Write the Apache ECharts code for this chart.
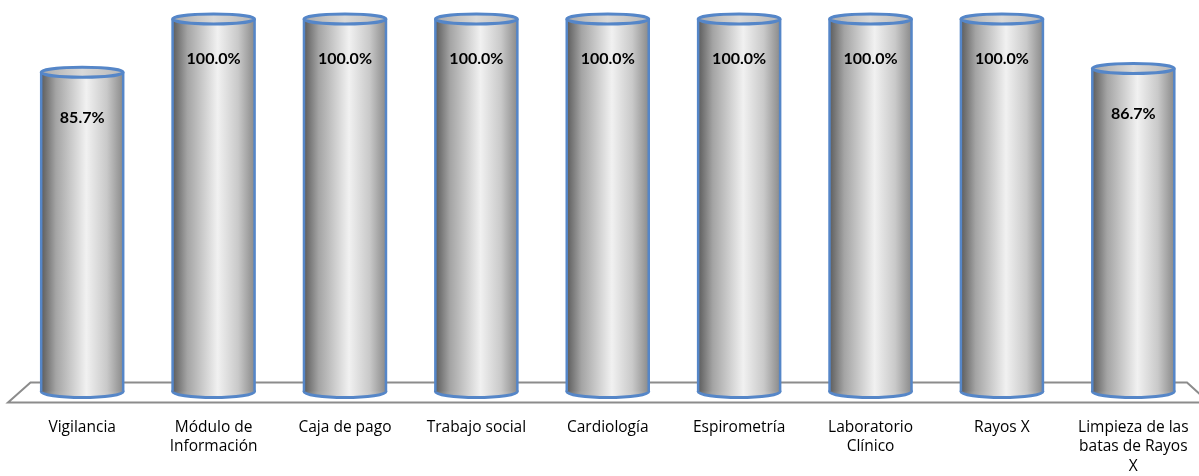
<!DOCTYPE html>
<html><head><meta charset="utf-8">
<script src="https://cdn.jsdelivr.net/npm/echarts@6/dist/echarts.min.js"></script>
<style>html,body{margin:0;padding:0;background:#fff}#c{width:1199px;height:476px}</style>
</head><body><div id="c"></div>
<script>
var categories = ['Vigilancia','Módulo de Información','Caja de pago','Trabajo social','Cardiología','Espirometría','Laboratorio Clínico','Rayos X','Limpieza de las batas de Rayos X'];
var tickLabels = ['Vigilancia','Módulo de\nInformación','Caja de pago','Trabajo social','Cardiología','Espirometría','Laboratorio\nClínico','Rayos X','Limpieza de las\nbatas de Rayos\nX'];
var values = [85.7, 100.0, 100.0, 100.0, 100.0, 100.0, 100.0, 100.0, 86.7];

var BLUE = '#5586c8';
var bodyGrad = function(){ return {type:'linear',x:0,y:0,x2:1,y2:0,colorStops:[
  {offset:0,color:'#5c5c5c'},{offset:0.18,color:'#a4a4a4'},{offset:0.55,color:'#f1f1f1'},{offset:0.8,color:'#c9c9c9'},{offset:1,color:'#8a8a8a'}]}; };
var topGrad = function(){ return {type:'linear',x:0,y:0,x2:1,y2:0,colorStops:[
  {offset:0,color:'#a9a9a9'},{offset:0.5,color:'#d9d9d9'},{offset:1,color:'#b5b5b5'}]}; };

var chart = echarts.init(document.getElementById('c'));
chart.setOption({
  animation:false,
  grid:{left:16.5, top:19, width:1189, height:373, containLabel:false},
  xAxis:{type:'category', data:categories, axisLine:{show:false}, axisTick:{show:false},
    axisLabel:{interval:0, margin:26, color:'#000', fontFamily:'Open Sans', fontSize:15.5, lineHeight:19.5,
      formatter:function(v,i){return tickLabels[i];}}},
  yAxis:{type:'value', min:0, max:100, show:false, splitLine:{show:false}},
  series:[
    {type:'custom', name:'floor', data:[0], z:1, silent:true,
     renderItem:function(params, api){
       var cs = params.coordSys; var b = cs.y + cs.height;
       return {type:'polygon', shape:{points:[[cs.x+14,b-9],[cs.x+cs.width-12,b-9],[cs.x+cs.width+10,b+11],[cs.x-8.5,b+11]]},
         style:{fill:'#fff', stroke:'#8c8c8c', lineWidth:2}};
     }},
    {type:'custom', name:'values', data:values, z:2,
     renderItem:function(params, api){
       var v = api.value(1);
       var top = api.coord([api.value(0), v]);
       var bot = api.coord([api.value(0), 0]);
       var cx = top[0], hw = 41, ry = 6, rt = 5;
       var off = 40 + (100 - v) * 0.4;
       return {type:'group', children:[
         {type:'ellipse', shape:{cx:cx, cy:bot[1], rx:hw, ry:ry}, style:{fill:bodyGrad(), stroke:BLUE, lineWidth:3}},
         {type:'rect', shape:{x:cx-hw, y:top[1], width:hw*2, height:bot[1]-top[1]}, style:{fill:bodyGrad()}},
         {type:'line', shape:{x1:cx-hw, y1:top[1], x2:cx-hw, y2:bot[1]}, style:{stroke:BLUE, lineWidth:2.5}},
         {type:'line', shape:{x1:cx+hw, y1:top[1], x2:cx+hw, y2:bot[1]}, style:{stroke:BLUE, lineWidth:2.5}},
         {type:'ellipse', shape:{cx:cx, cy:top[1], rx:hw, ry:rt}, style:{fill:topGrad(), stroke:BLUE, lineWidth:3}},
         {type:'text', x:cx, y:top[1]+off, style:{text:v.toFixed(1)+'%', fill:'#000', font:'bold 16px Lato', align:'center', verticalAlign:'middle'}}
       ]};
     }}
  ]
});
</script></body></html>
